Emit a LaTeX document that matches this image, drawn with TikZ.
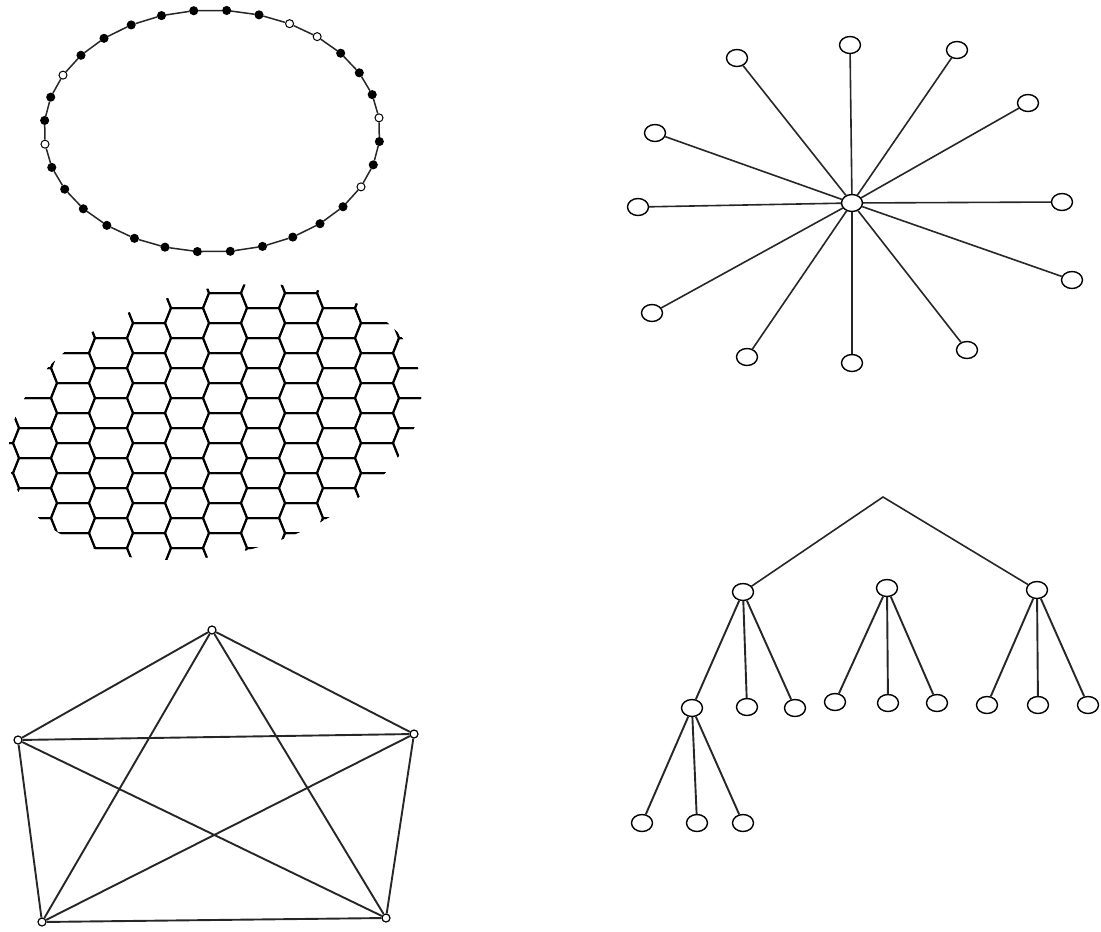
\documentclass[tikz,border=0pt]{standalone}
\usepackage{tikz}
\usetikzlibrary{shapes.geometric}

\tikzset{
  ringdot/.style={circle,draw=black,fill=#1,line width=1pt,inner sep=0pt,minimum size=8pt},
  leaf/.style={ellipse,draw=black,fill=white,line width=1.4pt,inner sep=0pt,minimum width=21pt,minimum height=17pt},
  corner/.style={circle,draw=black,fill=white,line width=1.2pt,inner sep=0pt,minimum size=8pt},
  edge/.style={line width=1.6pt,black!85},
  bond/.style={line width=2pt,black,line join=round},
}

\begin{document}
\begin{tikzpicture}[x=1pt,y=-1pt]
\useasboundingbox (0,0) rectangle (1101,932);

% ring of 32 atoms
\foreach \k/\c in {0/black,1/black,2/white,3/white,4/black,5/black,6/black,7/white,
 8/black,9/black,10/white,11/black,12/black,13/black,14/black,15/black,
 16/black,17/black,18/black,19/black,20/black,21/black,22/black,23/white,
 24/black,25/black,26/white,27/black,28/black,29/black,30/black,31/black}
 \node[ringdot=\c] (r\k) at ({212+168*cos(85-11.25*\k)},{131-121*sin(85-11.25*\k)}) {};
\foreach \k [evaluate=\k as \n using {int(mod(\k+1,32))}] in {0,...,31}
 \draw[edge,line width=1.5pt] (r\k) -- (r\n);

% honeycomb sheet
\begin{scope}
\clip[rotate around={14:(215,422)}] (215,422) ellipse [x radius=210, y radius=132];
\foreach \i in {-1,...,12}
 \foreach \j in {0,...,11}
  \draw[bond] ({-3+38*\i-22},{248+30*\j+15*mod(\i+2,2)}) -- ++(6,-15) -- ++(32,0)
   -- ++(6,15) -- ++(-6,15) -- ++(-32,0) -- cycle;
\end{scope}

% complete graph on five vertices
\node[corner] (p1) at (212,630) {};
\node[corner] (p2) at (18,740) {};
\node[corner] (p3) at (414,734) {};
\node[corner] (p4) at (42,922) {};
\node[corner] (p5) at (386,918) {};
\foreach \a/\b in {p1/p2,p1/p3,p1/p4,p1/p5,p2/p3,p2/p4,p2/p5,p3/p4,p3/p5,p4/p5}
 \draw[edge,line width=1.9pt] (\a) -- (\b);

% star
\node[leaf] (hub) at (852,203) {};
\foreach \n/\x/\y in {1/850/45,2/957/50,3/1028/103,4/1062/202,5/1072/280,6/967/350,
 7/852/363,8/747/357,9/652/313,10/638/207,11/655/133,12/737/58}
 {\node[leaf] (s\n) at (\x,\y) {};
  \draw[edge] (hub) -- (s\n);}

% tree
\coordinate (top) at (883,497);
\node[leaf] (t1) at (743,592) {};
\node[leaf] (t2) at (887,588) {};
\node[leaf] (t3) at (1037,590) {};
\node[leaf] (t11) at (692,708) {};
\node[leaf] (t12) at (747,707) {};
\node[leaf] (t13) at (795,708) {};
\node[leaf] (t21) at (835,702) {};
\node[leaf] (t22) at (888,703) {};
\node[leaf] (t23) at (937,703) {};
\node[leaf] (t31) at (987,705) {};
\node[leaf] (t32) at (1038,705) {};
\node[leaf] (t33) at (1088,705) {};
\node[leaf] (t111) at (642,823) {};
\node[leaf] (t112) at (697,823) {};
\node[leaf] (t113) at (743,823) {};
\draw[edge] (t1) -- (top) -- (t3);
\foreach \a/\b in {t1/t11,t1/t12,t1/t13,t2/t21,t2/t22,t2/t23,t3/t31,t3/t32,t3/t33,
 t11/t111,t11/t112,t11/t113}
 \draw[edge,line width=1.9pt] (\a) -- (\b);
\end{tikzpicture}
\end{document}
